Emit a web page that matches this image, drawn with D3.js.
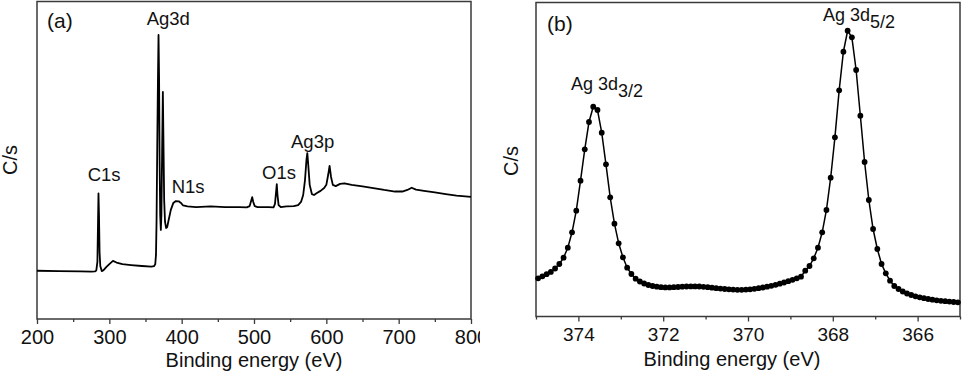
<!DOCTYPE html>
<html>
<head>
<meta charset="UTF-8">
<title>XPS Ag</title>
<style>
  body { margin: 0; background: #fff; }
  svg { display: block; }
  text { font-family: "Liberation Sans", Arial, sans-serif; fill: #111; }
</style>
</head>
<body>
<script src="https://cdn.jsdelivr.net/npm/d3@7"></script>
<script>
// (a) survey spectrum: binding energy (eV) and intensity (arb. units)
var surveyEnergy = [200, 230, 260, 275, 280, 282, 283.5, 284.3, 285, 285.7, 286.5, 287.5, 289.5, 292, 296, 300, 305, 310, 318, 330, 345, 358, 362, 363.5, 364.5, 365.3, 366.2, 367.2, 368, 368.8, 369.5, 370.3, 371.2, 372, 373, 374, 374.8, 375.8, 377, 378.5, 380, 382, 385, 388.5, 392, 396, 399, 402, 408, 420, 440, 460, 480, 490, 494, 496, 497.5, 499, 501, 505, 520, 527, 529, 530.5, 531.5, 532.5, 534, 537, 545, 555, 561, 565, 568, 570.5, 572.5, 573.7, 575, 577, 580, 583, 587, 592, 597, 600, 602.5, 604.5, 606.5, 609, 613, 619, 625, 635, 650, 665, 680, 695, 705, 712, 718, 724, 735, 750, 765, 780, 800]
var surveyCounts = [14.9, 14.8, 14.7, 14.6, 14.7, 15.0, 17.7, 29.3, 39.3, 32.5, 20.8, 16.4, 14.8, 15.1, 16.1, 17.0, 18.0, 17.5, 17.0, 16.7, 16.4, 16.2, 16.4, 17.0, 19.9, 30.9, 53.0, 75.1, 89.3, 75.1, 49.8, 32.5, 27.8, 32.5, 53.0, 71.3, 56.2, 37.2, 30.3, 28.4, 28.7, 30.9, 34.1, 36.3, 36.9, 36.8, 36.3, 35.5, 35.2, 35.0, 35.2, 35.0, 35.0, 34.9, 35.3, 36.9, 38.1, 36.6, 35.3, 35.0, 35.0, 34.9, 36.0, 39.7, 42.2, 38.8, 35.6, 35.0, 35.2, 35.3, 35.6, 36.6, 38.8, 43.5, 49.8, 52.0, 48.3, 42.0, 39.1, 38.8, 39.4, 40.1, 41.0, 42.0, 45.1, 48.0, 44.5, 42.0, 41.6, 42.3, 42.5, 42.0, 41.5, 41.0, 40.4, 39.9, 39.9, 40.4, 41.1, 40.5, 40.1, 39.6, 39.1, 38.6, 38.2]
var surveyTicks = [200, 300, 400, 500, 600, 700, 800]
var surveyMinor = [250, 350, 450, 550, 650, 750]
var surveyPeaks = ["Ag3d", "C1s", "N1s", "O1s", "Ag3p"]
var surveyPeakAt = [
  [146.7, 24.5], [87.7, 181], [171.7, 193], [262, 178.7], [291, 148]
]

// (b) Ag 3d high resolution
var agEnergy = [374.95, 374.85, 374.75, 374.65, 374.55, 374.45, 374.35, 374.25, 374.15, 374.05,
  373.95, 373.85, 373.75, 373.65, 373.55, 373.45, 373.35, 373.25, 373.15, 373.05,
  372.95, 372.85, 372.75, 372.65, 372.55, 372.45, 372.35, 372.25, 372.15, 372.05,
  371.95, 371.85, 371.75, 371.65, 371.55, 371.45, 371.35, 371.25, 371.15, 371.05,
  370.95, 370.85, 370.75, 370.65, 370.55, 370.45, 370.35, 370.25, 370.15, 370.05,
  369.95, 369.85, 369.75, 369.65, 369.55, 369.45, 369.35, 369.25, 369.15, 369.05,
  368.95, 368.85, 368.75, 368.65, 368.55, 368.45, 368.35, 368.25, 368.15, 368.05,
  367.95, 367.85, 367.75, 367.65, 367.55, 367.45, 367.35, 367.25, 367.15, 367.05,
  366.95, 366.85, 366.75, 366.65, 366.55, 366.45, 366.35, 366.25, 366.15, 366.05,
  365.95, 365.85, 365.75, 365.65, 365.55, 365.45, 365.35, 365.25, 365.15, 365.05]
var agCounts = [11.48, 12.12, 12.80, 13.54, 14.63, 16.08, 18.10, 21.32, 26.27, 33.21,
  42.86, 52.95, 61.73, 66.65, 65.59, 58.29, 48.13, 37.52, 29.03, 22.73,
  18.23, 14.89, 12.86, 11.35, 10.45, 9.81, 9.32, 9.00, 8.78, 8.62,
  8.55, 8.55, 8.62, 8.68, 8.78, 8.84, 8.87, 8.87, 8.84, 8.74,
  8.62, 8.46, 8.29, 8.17, 8.04, 7.94, 7.84, 7.78, 7.78, 7.84,
  7.94, 8.10, 8.29, 8.52, 8.78, 9.07, 9.39, 9.74, 10.13, 10.55,
  11.00, 11.48, 11.99, 13.92, 15.43, 17.91, 21.32, 26.27, 33.44, 43.82,
  56.81, 71.92, 84.33, 91.08, 88.96, 78.45, 63.75, 48.87, 36.65, 27.33,
  20.90, 16.08, 13.09, 10.71, 9.00, 8.04, 7.23, 6.59, 6.11, 5.69,
  5.37, 5.08, 4.82, 4.60, 4.40, 4.24, 4.12, 3.99, 3.86, 3.76]
var agTicks = [374, 372, 370, 368, 366]
var agMinor = [375, 373, 371, 369, 367, 365]

var svg = d3.select("body").append("svg")
  .attr("width", 964)
  .attr("height", 375)

var frameColor = "#3a3a3a"

// ---------- panel (a) ----------
svg.append("clipPath").attr("id", "clipA")
  .append("rect").attr("x", 0).attr("y", 0).attr("width", 480).attr("height", 375)

var ga = svg.append("g").attr("clip-path", "url(#clipA)")

var xa = d3.scaleLinear().domain([200, 800]).range([37, 471])
var ya = d3.scaleLinear().domain([0, 100]).range([318, 1])
var boxA = { left: 37, right: 471, top: 1.5, bottom: 319 }

ga.append("rect")
  .attr("x", boxA.left).attr("y", boxA.top)
  .attr("width", boxA.right - boxA.left).attr("height", boxA.bottom - boxA.top)
  .attr("fill", "none").attr("stroke", frameColor).attr("stroke-width", 1.5)

var axA = ga.append("g").attr("transform", "translate(0," + boxA.bottom + ")")
  .call(d3.axisBottom(xa).tickValues(surveyTicks).tickSize(5).tickPadding(6))
axA.select(".domain").remove()
axA.selectAll("line").attr("stroke", frameColor).attr("stroke-width", 1.3)
axA.selectAll("text").attr("font-size", "20px").attr("fill", "#111")
  .attr("font-family", "Liberation Sans, Arial, sans-serif")

var axAm = ga.append("g").attr("transform", "translate(0," + boxA.bottom + ")")
  .call(d3.axisBottom(xa).tickValues(surveyMinor).tickSize(3).tickFormat(""))
axAm.select(".domain").remove()
axAm.selectAll("line").attr("stroke", frameColor).attr("stroke-width", 1.3)

var surveyData = surveyEnergy.map(function(e, i) { return [e, surveyCounts[i]] })
ga.append("path")
  .datum(surveyData)
  .attr("fill", "none")
  .attr("stroke", "#000")
  .attr("stroke-width", 1.8)
  .attr("stroke-linejoin", "round")
  .attr("d", d3.line()
    .x(function(d) { return xa(d[0]) })
    .y(function(d) { return ya(d[1]) }))

ga.selectAll(".peak").data(surveyPeaks).enter().append("text")
  .attr("x", function(d, i) { return surveyPeakAt[i][0] })
  .attr("y", function(d, i) { return surveyPeakAt[i][1] })
  .attr("font-size", "18.5px")
  .text(function(d) { return d })

ga.append("text").attr("x", 47).attr("y", 28)
  .attr("font-family", "Open Sans, sans-serif").attr("font-size", "21px")
  .text("(a)")

ga.append("text")
  .attr("x", 254).attr("y", 367)
  .attr("text-anchor", "middle").attr("font-size", "20px")
  .text("Binding energy (eV)")

ga.append("text")
  .attr("transform", "translate(17,160) rotate(-90)")
  .attr("text-anchor", "middle").attr("font-size", "20px")
  .text("C/s")

// ---------- panel (b) ----------
var xb = d3.scaleLinear().domain([375, 365]).range([536, 960])
var yb = d3.scaleLinear().domain([0, 100]).range([314, 3])
var boxB = { left: 536, right: 960, top: 2.5, bottom: 316.5 }

svg.append("rect")
  .attr("x", boxB.left).attr("y", boxB.top)
  .attr("width", boxB.right - boxB.left).attr("height", boxB.bottom - boxB.top)
  .attr("fill", "none").attr("stroke", frameColor).attr("stroke-width", 1.5)

var axB = svg.append("g").attr("transform", "translate(0," + boxB.bottom + ")")
  .call(d3.axisBottom(xb).tickValues(agTicks).tickSize(5).tickPadding(6))
axB.select(".domain").remove()
axB.selectAll("line").attr("stroke", frameColor).attr("stroke-width", 1.3)
axB.selectAll("text").attr("font-size", "19px").attr("fill", "#111")
  .attr("font-family", "Liberation Sans, Arial, sans-serif")

var axBm = svg.append("g").attr("transform", "translate(0," + boxB.bottom + ")")
  .call(d3.axisBottom(xb).tickValues(agMinor).tickSize(3).tickFormat(""))
axBm.select(".domain").remove()
axBm.selectAll("line").attr("stroke", frameColor).attr("stroke-width", 1.3)

var agData = agEnergy.map(function(e, i) { return [e, agCounts[i]] })
svg.append("path")
  .datum(agData)
  .attr("fill", "none")
  .attr("stroke", "#000")
  .attr("stroke-width", 1.5)
  .attr("d", d3.line()
    .x(function(d) { return xb(d[0]) })
    .y(function(d) { return yb(d[1]) }))

svg.selectAll(".dot").data(agData).enter().append("circle")
  .attr("class", "dot")
  .attr("cx", function(d) { return xb(d[0]) })
  .attr("cy", function(d) { return yb(d[1]) })
  .attr("r", 2.9)
  .attr("fill", "#000")

svg.append("text").attr("x", 547).attr("y", 31)
  .attr("font-family", "Open Sans, sans-serif").attr("font-size", "21px")
  .text("(b)")

function peakLabel(x, y, sub) {
  var t = svg.append("text").attr("x", x).attr("y", y).attr("font-size", "18px")
  t.append("tspan").text("Ag 3d")
  t.append("tspan").attr("dy", 7).text(sub)
}
peakLabel(823, 20.5, "5/2")
peakLabel(571, 90, "3/2")

svg.append("text")
  .attr("x", 732).attr("y", 366)
  .attr("text-anchor", "middle").attr("font-size", "20px")
  .text("Binding energy (eV)")

svg.append("text")
  .attr("transform", "translate(518,161) rotate(-90)")
  .attr("text-anchor", "middle").attr("font-size", "20px")
  .text("C/s")
</script>
</body>
</html>
